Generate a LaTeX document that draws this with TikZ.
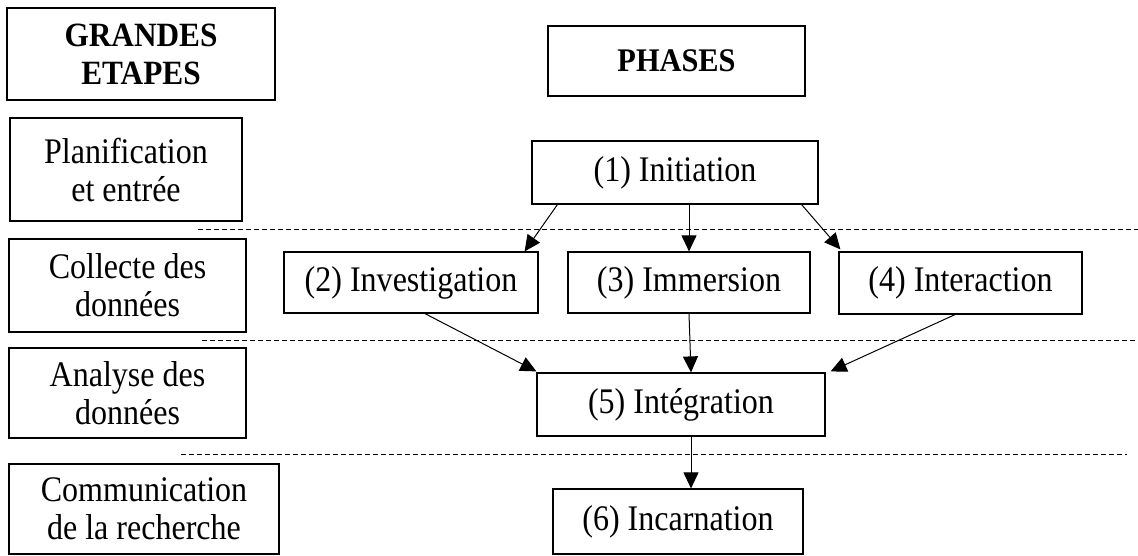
\documentclass[tikz,border=0pt]{standalone}
\usepackage{fontspec}
\setmainfont{Liberation Serif}[FakeStretch=0.89]
\newfontfamily\headfont{Liberation Serif}[FakeStretch=0.92]
\usetikzlibrary{arrows.meta,calc}
\begin{document}
\begin{tikzpicture}[x=1pt,y=-1pt,
  box/.style={draw,line width=1.2pt,rectangle,inner sep=0pt,align=center,
    font=\fontsize{36}{38}\selectfont},
  hbox/.style={box,font=\headfont\fontsize{34}{38}\selectfont\bfseries},
  conn/.style={line width=1pt,-{Triangle[length=16pt,width=15pt]}},
  sep/.style={line width=1pt,dash pattern=on 5pt off 3pt}]
\useasboundingbox (0,0) rectangle (1138,555);
% left column
\node[hbox,minimum width=268pt,minimum height=92pt] (ge) at (141,54) {GRANDES\\ETAPES};
\node[box,minimum width=232pt,minimum height=103pt] (pl) at (126,169.5) {Planification\\et entrée};
\node[box,minimum width=237pt,minimum height=93pt] (co) at (127.5,285.5) {Collecte des\\données};
\node[box,minimum width=237pt,minimum height=90pt] (an) at (127.5,393) {Analyse des\\données};
\node[box,minimum width=270pt,minimum height=90pt] (cm) at (144,509) {Communication\\de la recherche};
% phases
\node[hbox,font=\headfont\fontsize{33}{38}\selectfont\bfseries,minimum width=257pt,minimum height=70pt] (ph) at (676.5,61) {PHASES};
\node[box,minimum width=286pt,minimum height=63pt] (p1) at (675,172.5) {(1) Initiation};
\node[box,minimum width=254pt,minimum height=61pt] (p2) at (411,282.5) {(2) Investigation};
\node[box,minimum width=242pt,minimum height=61pt] (p3) at (689,282.5) {(3) Immersion};
\node[box,minimum width=243pt,minimum height=62pt] (p4) at (960.5,283) {(4) Interaction};
\node[box,minimum width=288pt,minimum height=63pt] (p5) at (681,404.5) {(5) Intégration};
\node[box,minimum width=250pt,minimum height=65pt] (p6) at (678,521.5) {(6) Incarnation};
% separators
\coordinate (d1a) at (198,229); \coordinate (d1b) at (1138,229);
\coordinate (d2a) at (202,340); \coordinate (d2b) at (1138,340);
\coordinate (d3a) at (181,454); \coordinate (d3b) at (1127,454);
\draw[sep] (d1a) -- (d1b);
\draw[sep] (d2a) -- (d2b);
\draw[sep] (d3a) -- (d3b);
% connectors
\draw[conn] ($(p1.south west)+(26,0)$) -- ($(p2.north east)+(-14,0)$);
\draw[conn] (p1.south -| p3.north) -- (p3.north);
\draw[conn] ($(p1.south east)+(-17,0)$) -- ($(p4.north west)+(2,-2)$);
\draw[conn] ($(p2.south)+(14,0)$) -- ($(p5.north west)+(0,-1)$);
\draw[conn] (p3.south) -- ($(p5.north)+(10,0)$);
\draw[conn] ($(p4.south)+(-5.5,0)$) -- ($(p5.north east)+(5,-1)$);
\draw[conn] ($(p5.south)+(10,0)$) -- ($(p6.north)+(13,0)$);
\end{tikzpicture}
\end{document}
